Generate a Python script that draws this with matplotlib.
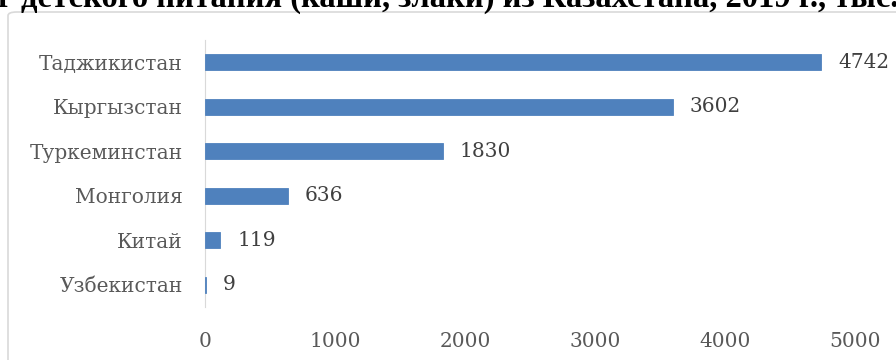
import matplotlib.pyplot as plt
from matplotlib.patches import FancyBboxPatch

countries = ['Узбекистан', 'Китай', 'Монголия', 'Туркеминстан', 'Кыргызстан', 'Таджикистан']
values = [9, 119, 636, 1830, 3602, 4742]
xticks = [0, 1000, 2000, 3000, 4000, 5000]
title = 'г детского питания (каши, злаки) из Казахстана, 2019 г., тыс.'

plt.rcParams['font.family'] = ['DejaVu Serif']

fig = plt.figure(figsize=(8.96, 3.6), dpi=100)

# рамка области диаграммы
frame = FancyBboxPatch((8 / 896, -0.1), 1.0, (360 - 12) / 360 + 0.1,
                       boxstyle='round,pad=0,rounding_size=0.01',
                       transform=fig.transFigure, facecolor='white',
                       edgecolor='#D9D9D9', linewidth=1.2, zorder=-5)
fig.patches.append(frame)

fig.text(0.5, 1 - 7 / 360, title, ha='center', va='baseline', fontsize=23.5,
         fontweight='bold', color='black', family='Liberation Serif')

ax = fig.add_axes([205 / 896, 53 / 360, 650 / 896, 267 / 360])
ax.barh(range(len(countries)), values, height=0.36, color='#4F81BD',
        linewidth=0.6, edgecolor='#4F81BD', zorder=2)
ax.set_xlim(0, 5000)
ax.set_ylim(-0.5, len(countries) - 0.5)
ax.set_yticks(range(len(countries)))
ax.set_yticklabels(countries)
ax.set_xticks(xticks)
ax.tick_params(axis='both', length=0, labelsize=14.5, labelcolor='#595959')
ax.tick_params(axis='x', pad=18)
ax.tick_params(axis='y', pad=16)
for s in ['top', 'right', 'bottom']:
    ax.spines[s].set_visible(False)
ax.spines['left'].set_color('#D9D9D9')
ax.spines['left'].set_zorder(1)
ax.patch.set_alpha(0)

for i, v in enumerate(values):
    ax.annotate(str(v), (v, i), xytext=(12, 0), textcoords='offset points',
                va='center', ha='left', fontsize=14.5, color='#404040')

fig.savefig('out.png', dpi=100)
